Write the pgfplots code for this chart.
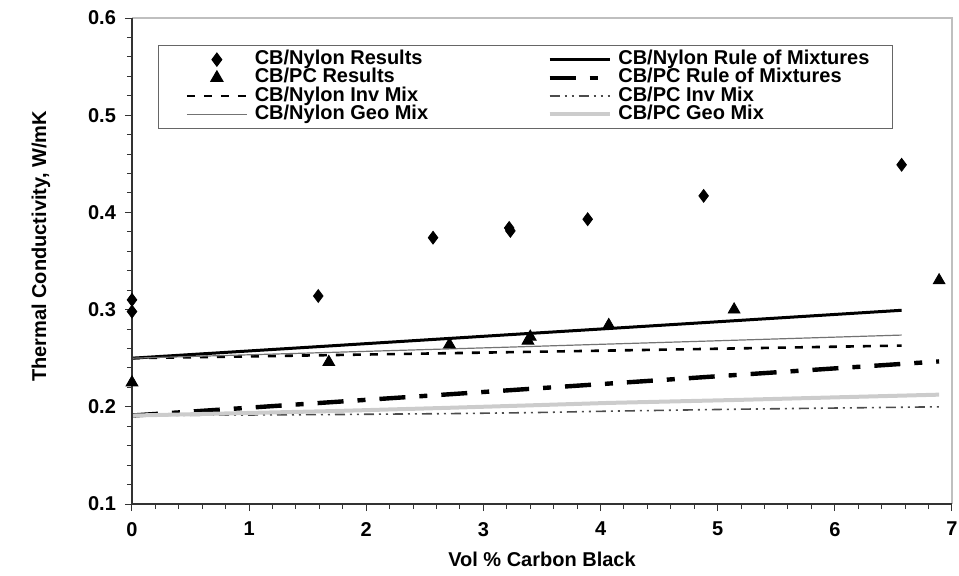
\documentclass[border=0pt]{standalone}
\usepackage{fontspec}
\setmainfont{Liberation Sans}
\usepackage{pgfplots}
\pgfplotsset{compat=1.18}
\pgfplotsset{
  marklegend/.style={legend image code/.code={\path (-5.3pt,0pt);
    \draw[mark repeat=2,mark phase=2,##1] plot coordinates {(0pt,0pt)(15pt,0pt)(30pt,0pt)};}},
  linelegend/.style={legend image code/.code={\path (-5.3pt,0pt);
    \draw[##1] (0pt,0pt) -- (30pt,0pt);}},
}

\begin{document}
\begin{tikzpicture}
\useasboundingbox (-66pt,-35.5pt) rectangle (413.5pt,252pt);
\begin{axis}[
  at={(0pt,0pt)}, anchor=south west,
  scale only axis, width=410pt, height=243pt,
  xmin=0, xmax=7, ymin=0.1, ymax=0.6,
  xtick={0,1,2,3,4,5,6,7},
  ytick={0.1,0.2,0.3,0.4,0.5,0.6},
  minor x tick num=4, minor y tick num=4,
  tick pos=left, tick align=outside,
  major tick length=3.5pt, minor tick length=2.5pt,
  tick style={black!80, line width=0.5pt},
  axis line style={draw=none},
  clip=false,
  /pgf/number format/assume math mode=true,
  ticklabel style={font=\bfseries},
  xticklabel style={yshift=-2pt},
  yticklabel style={xshift=-1pt, /pgf/number format/fixed, /pgf/number format/fixed zerofill,
                    /pgf/number format/precision=1},
  xlabel={\bfseries Vol \% Carbon Black},
  ylabel={\bfseries Thermal Conductivity, W/mK},
  xlabel style={at={(axis description cs:0.5,-0.1132)}, anchor=center},
  ylabel style={at={(axis description cs:-0.111,0.53)}, anchor=center},
  legend columns=2,
  legend cell align=left,
  linelegend,
  legend style={at={(axis description cs:0.0317,0.9444)}, anchor=north west,
    draw=black!60, line width=0.6pt, font=\bfseries,
    inner xsep=8.2pt, inner ysep=2.7pt, row sep=0.5pt,
    nodes={inner ysep=0pt, inner xsep=3.3pt, text height=6.8pt, text depth=1.8pt},
    /tikz/every even column/.append style={column sep=51pt}},
]

% CB/Nylon measured
\addplot[only marks, mark=diamond*, mark size=3.2pt, black, marklegend]
  coordinates {
    (0,0.310)(0,0.298)(1.59,0.314)(2.57,0.374)(3.22,0.384)(3.23,0.381)
    (3.89,0.393)(4.88,0.417)(6.57,0.449)
  };
\addlegendentry{CB/Nylon Results}

\addplot[black, line width=1.5pt]
  coordinates {
    (0,0.2500)(1.59,0.2619)(2.57,0.2693)(3.22,0.2742)(3.89,0.2792)(4.88,0.2866)(6.57,0.2993)
  };
\addlegendentry{CB/Nylon Rule of Mixtures}

% CB/PC measured
\addplot[only marks, mark=triangle*, mark size=3.4pt, black, marklegend]
  coordinates {
    (0,0.225)(1.68,0.246)(2.71,0.264)(3.38,0.268)(3.40,0.272)
    (4.07,0.284)(5.14,0.300)(6.89,0.330)
  };
\addlegendentry{CB/PC Results}

\addplot[black, line width=2.2pt, dash pattern=on 13pt off 7pt on 4pt off 7pt]
  coordinates {
    (0,0.1910)(1.68,0.2046)(2.71,0.2129)(3.40,0.2185)(4.07,0.2239)(5.14,0.2326)(6.89,0.2467)
  };
\addlegendentry{CB/PC Rule of Mixtures}

\addplot[black, line width=1.3pt, dash pattern=on 4pt off 4.5pt]
  coordinates {
    (0,0.2500)(1.59,0.2530)(2.57,0.2549)(3.22,0.2562)(3.89,0.2575)(4.88,0.2595)(6.57,0.2630)
  };
\addlegendentry{CB/Nylon Inv Mix}

\addplot[black!70, line width=0.8pt, dash pattern=on 5pt off 2.5pt on 1pt off 2.5pt on 1pt off 2.5pt]
  coordinates {
    (0,0.1910)(1.68,0.1920)(2.71,0.1930)(3.40,0.1940)(4.07,0.1955)(5.14,0.1975)(6.89,0.2000)
  };
\addlegendentry{CB/PC Inv Mix}

\addplot[black!55, line width=0.6pt]
  coordinates {
    (0,0.2500)(1.59,0.2556)(2.57,0.2591)(3.22,0.2614)(3.89,0.2639)(4.88,0.2675)(6.57,0.2738)
  };
\addlegendentry{CB/Nylon Geo Mix}

\addplot[black!20, line width=2pt]
  coordinates {
    (0,0.1910)(1.68,0.1955)(2.71,0.1990)(3.40,0.2015)(4.07,0.2040)(5.14,0.2070)(6.89,0.2125)
  };
\addlegendentry{CB/PC Geo Mix}

% frame: dark left/bottom, light top/right
\draw[black!25, line width=0.8pt] (rel axis cs:0,1) -- (rel axis cs:1,1) -- (rel axis cs:1,0);
\draw[black!80, line width=0.6pt] (rel axis cs:0,1) -- (rel axis cs:0,0) -- (rel axis cs:1,0);
\end{axis}
\end{tikzpicture}
\end{document}
